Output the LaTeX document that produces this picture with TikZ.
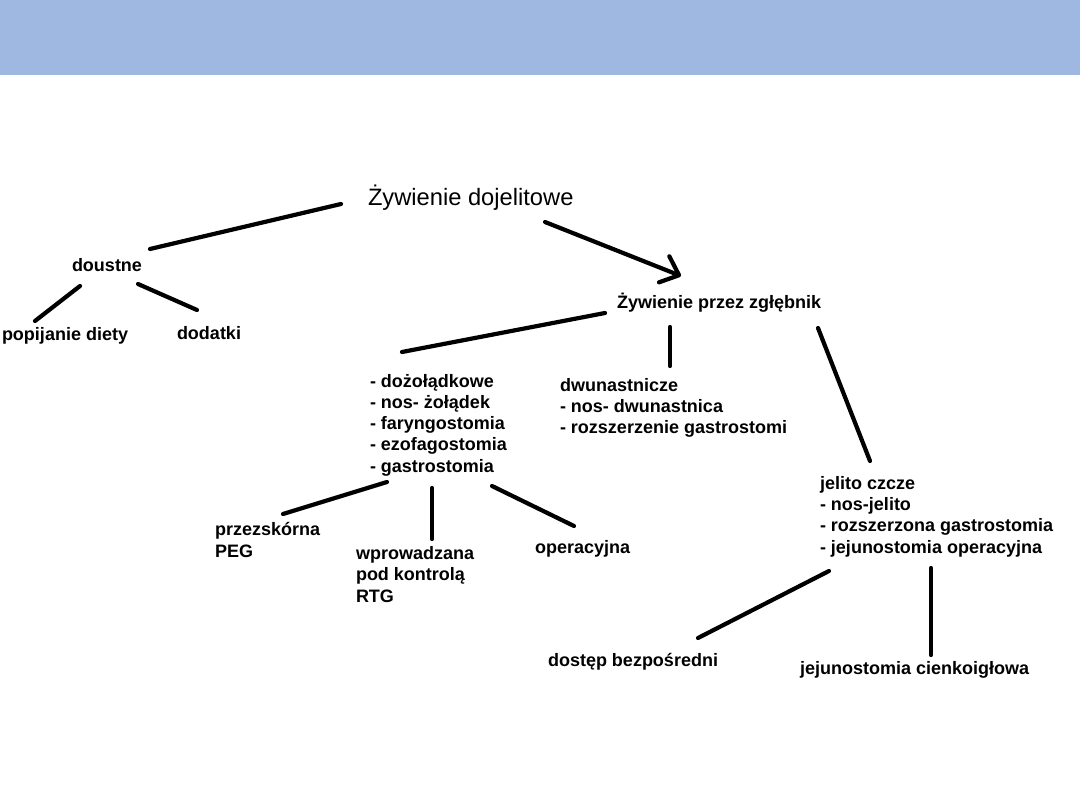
\documentclass[tikz,border=0pt]{standalone}
\usepackage{fontspec}
\setmainfont{Liberation Sans}
\usetikzlibrary{arrows.meta}
\definecolor{band}{RGB}{158,184,226}
\tikzset{
  lbl/.style={anchor=base west, inner sep=0pt, outer sep=0pt, align=left,
    font=\fontsize{18}{21.2}\selectfont\bfseries},
  ttl/.style={anchor=base west, inner sep=0pt, outer sep=0pt,
    font=\fontsize{23.7}{28}\selectfont},
  conn/.style={line width=4.2pt, line cap=round, black},
  arr/.style={conn, -{Straight Barb[length=16pt,width=28pt,line width=4.2pt,round]}}
}
\begin{document}
\begin{tikzpicture}[x=1pt,y=-1pt]
\useasboundingbox (0,0) rectangle (1080,810);
\fill[band] (0,0) rectangle (1080,75);

% multi-line nodes: base anchor is the baseline of the last line
\node[ttl] (root) at (368,206) {Żywienie dojelitowe};
\node[lbl] (doustne) at (72,272) {doustne};
\node[lbl] (popij) at (2,341) {popijanie diety};
\node[lbl] (dodatki) at (177,340) {dodatki};
\node[lbl] (zgl) at (617,309) {Żywienie przez zgłębnik};
\node[lbl] (dozol) at (370,472) {- dożołądkowe\\- nos- żołądek\\- faryngostomia\\- ezofagostomia\\- gastrostomia};
\node[lbl] (dwun) at (560,434) {dwunastnicze\\- nos- dwunastnica\\- rozszerzenie gastrostomi};
\node[lbl] (peg) at (215,557) {przezskórna\\PEG};
\node[lbl] (rtg) at (356,602) {wprowadzana\\pod kontrolą\\RTG};
\node[lbl] (oper) at (535,553) {operacyjna};
\node[lbl] (jel) at (820,553) {jelito czcze\\- nos-jelito\\- rozszerzona gastrostomia\\- jejunostomia operacyjna};
\node[lbl] (dost) at (548,666) {dostęp bezpośredni};
\node[lbl] (cienk) at (800,674) {jejunostomia cienkoigłowa};

% connector end points
\coordinate (rootL) at (341,204);
\coordinate (doustneT) at (150,249);
\coordinate (rootR) at (545,222);
\coordinate (zglT) at (681,276);
\coordinate (doustneBL) at (80,286);
\coordinate (popijT) at (35,321);
\coordinate (doustneBR) at (138,284);
\coordinate (dodatkiT) at (197,310);
\coordinate (zglBL) at (605,313);
\coordinate (dozolT) at (402,352);
\coordinate (zglBM) at (670,327);
\coordinate (dwunT) at (670,366);
\coordinate (zglBR) at (818,328);
\coordinate (jelT) at (870,461);
\coordinate (dozolBL) at (387,482);
\coordinate (pegT) at (283,514);
\coordinate (dozolBM) at (432,488);
\coordinate (rtgT) at (432,539);
\coordinate (dozolBR) at (492,486);
\coordinate (operT) at (574,526);
\coordinate (jelBL) at (829,571);
\coordinate (dostT) at (698,638);
\coordinate (jelBR) at (931,568);
\coordinate (cienkT) at (931,655);

\draw[conn] (rootL) -- (doustneT);
\draw[arr] (rootR) -- (zglT);
\draw[conn] (doustneBL) -- (popijT);
\draw[conn] (doustneBR) -- (dodatkiT);
\draw[conn] (zglBL) -- (dozolT);
\draw[conn] (zglBM) -- (dwunT);
\draw[conn] (zglBR) -- (jelT);
\draw[conn] (dozolBL) -- (pegT);
\draw[conn] (dozolBM) -- (rtgT);
\draw[conn] (dozolBR) -- (operT);
\draw[conn] (jelBL) -- (dostT);
\draw[conn] (jelBR) -- (cienkT);
\end{tikzpicture}
\end{document}
